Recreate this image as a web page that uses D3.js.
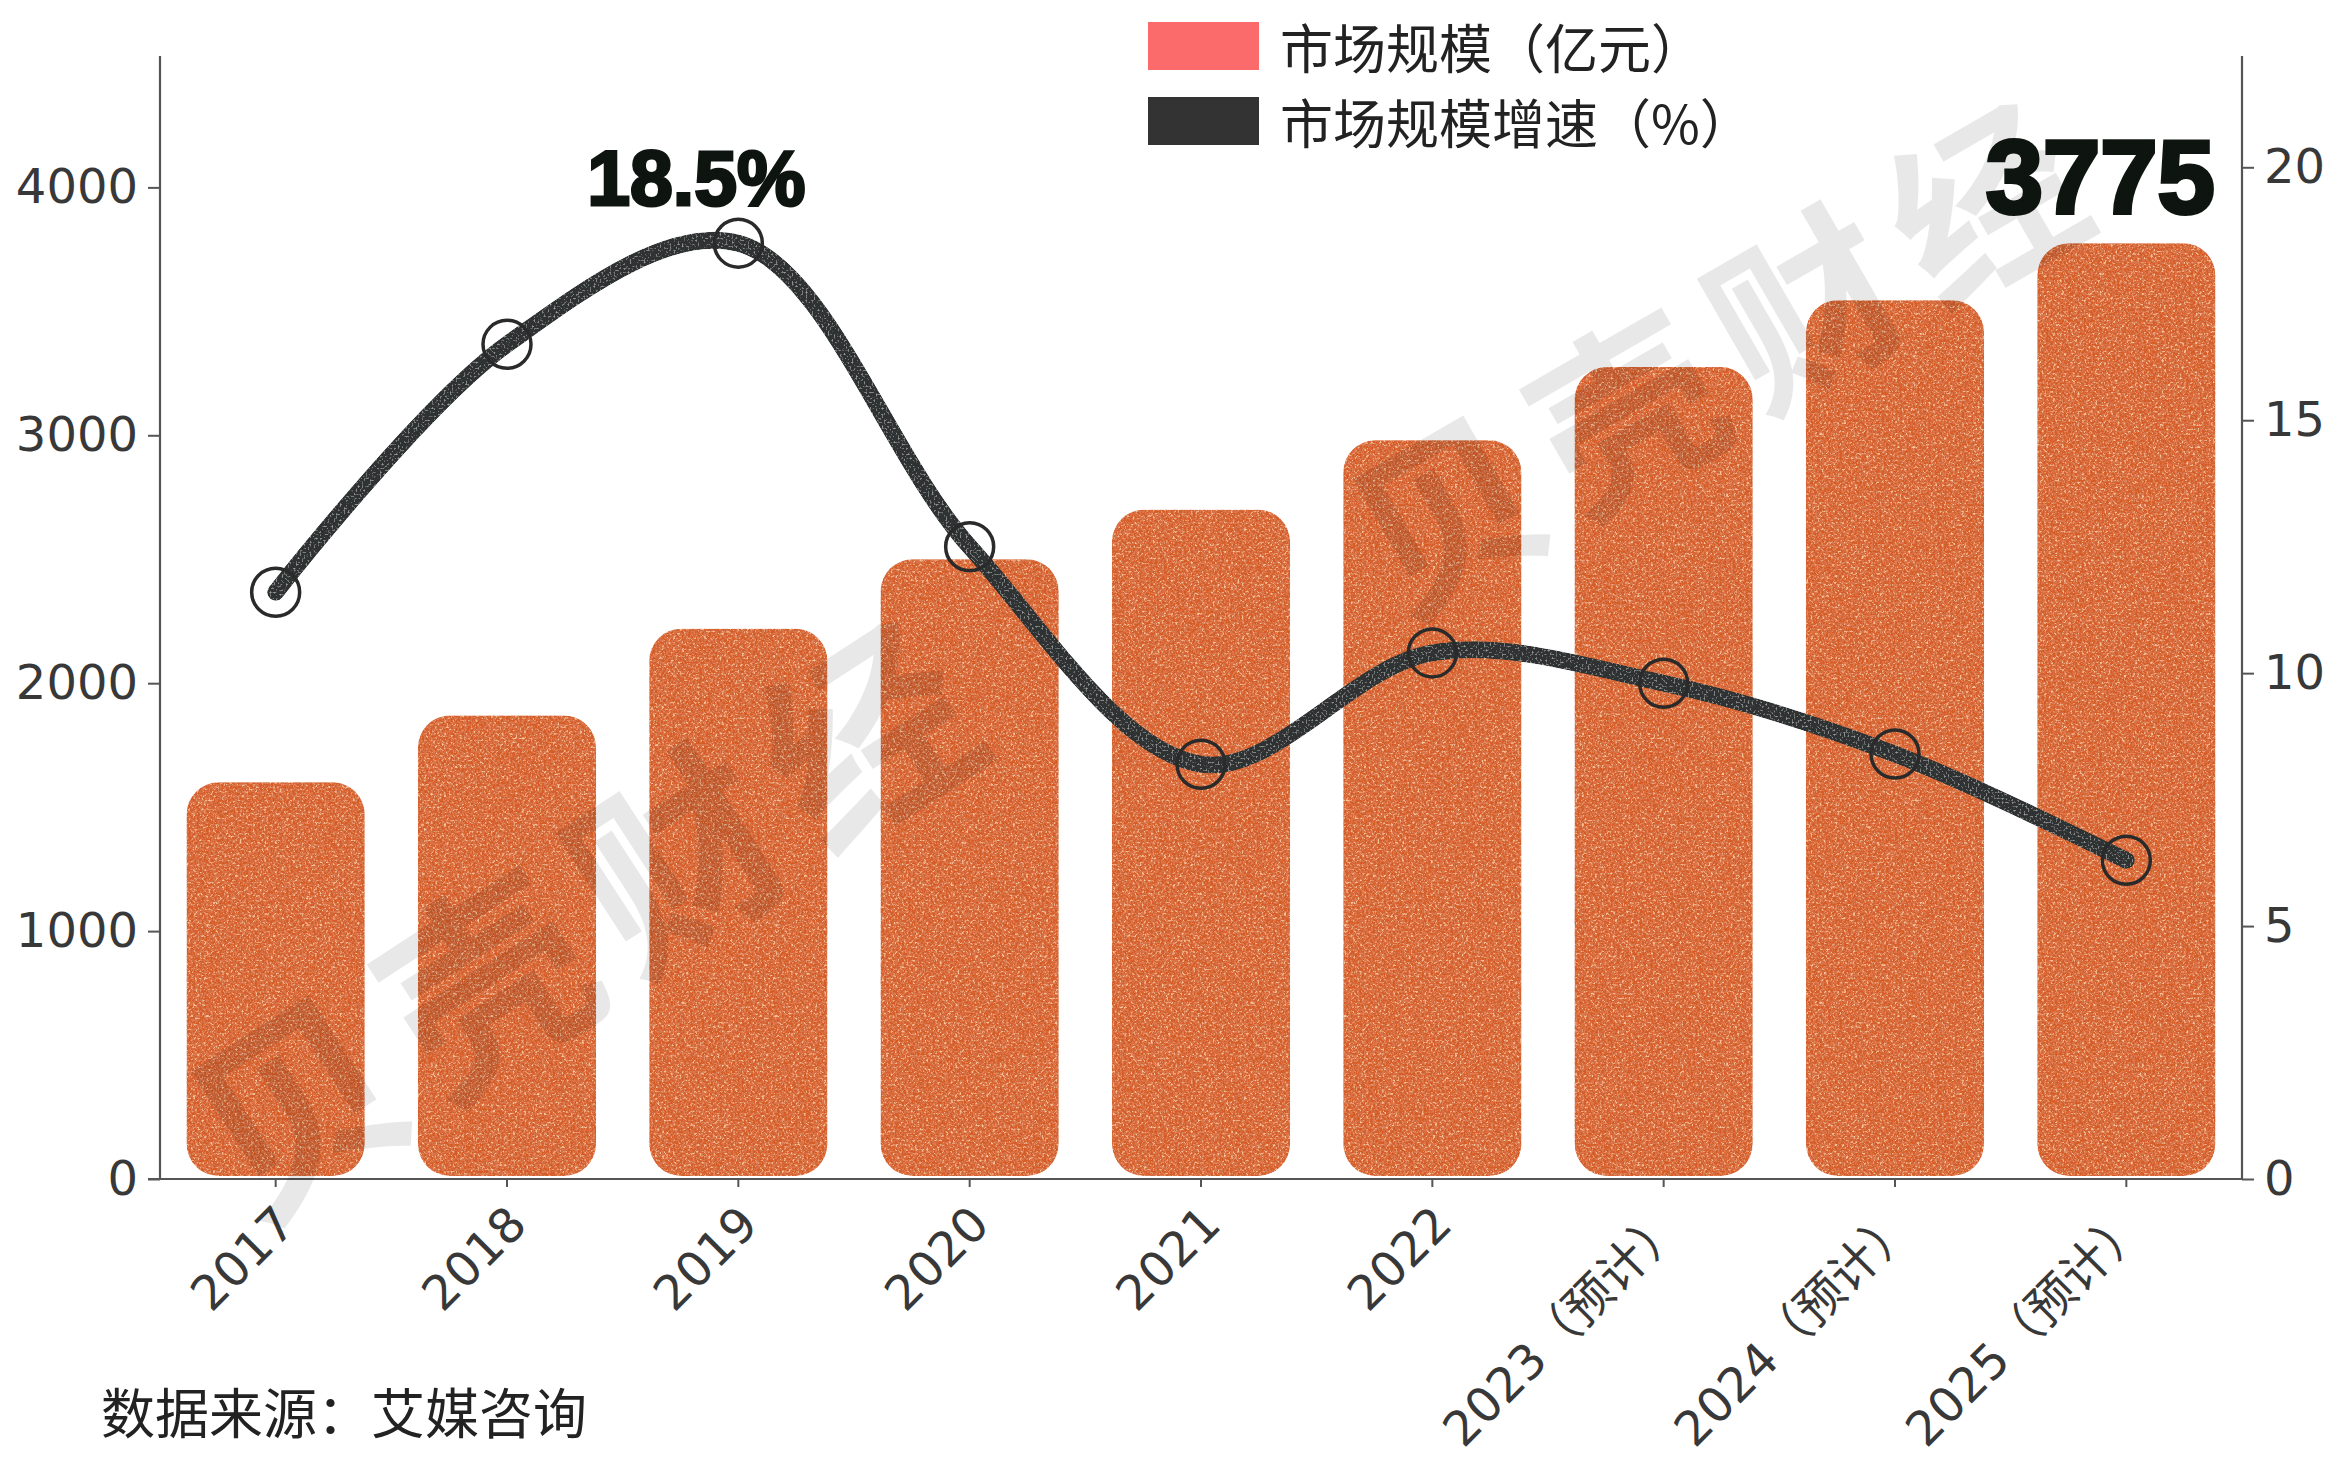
<!DOCTYPE html>
<html>
<head>
<meta charset="utf-8">
<script src="https://cdn.jsdelivr.net/npm/d3@7/dist/d3.min.js"></script>
<style>
  html, body { margin: 0; padding: 0; background: #ffffff; }
  svg { display: block; }
</style>
</head>
<body>
<svg id="chart" width="2328" height="1471"></svg>
<script>
// ---- Data ----
const categories = ["2017","2018","2019","2020","2021","2022","2023（预计）","2024（预计）","2025（预计）"];
const marketSize = [1600, 1870, 2220, 2500, 2700, 2980, 3275, 3545, 3775];   // 亿元
const growthRate = [11.6, 16.5, 18.5, 12.5, 8.2, 10.4, 9.8, 8.4, 6.3];       // %
const leftTicks = [0, 1000, 2000, 3000, 4000];
const rightTicks = [0, 5, 10, 15, 20];
const legendLabels = ["市场规模（亿元）", "市场规模增速（%）"];
const sourceText = "数据来源：艾媒咨询";
const watermarkText = "贝壳财经";

// ---- Layout ----
const W = 2328, H = 1471;
const x0 = 160, x1 = 2242, yBottom = 1179, yTop = 56;

const svg = d3.select("#chart");

const x = d3.scaleBand().domain(categories).range([x0, x1]).paddingInner(0.23).paddingOuter(0.115);
const yL = d3.scaleLinear().domain([0, 4530]).range([yBottom, yTop]);
const yR = d3.scaleLinear().domain([0, 22.2]).range([yBottom, yTop]);

// ---- Filters (grain textures) ----
const defs = svg.append("defs");
const fBar = defs.append("filter").attr("id", "grainBar")
  .attr("x", 0).attr("y", 0).attr("width", 1).attr("height", 1);
fBar.append("feTurbulence").attr("type", "fractalNoise").attr("baseFrequency", 0.45)
  .attr("numOctaves", 2).attr("seed", 7).attr("result", "n");
fBar.append("feColorMatrix").attr("in", "n").attr("type", "matrix")
  .attr("values", "0 0 0 0 0.94  0 0 0 0 0.56  0 0 0 0 0.32  4.5 0 0 0 -2.35").attr("result", "light");
fBar.append("feColorMatrix").attr("in", "n").attr("type", "matrix")
  .attr("values", "0 0 0 0 0.70  0 0 0 0 0.18  0 0 0 0 0.07  0 4.5 0 0 -2.0").attr("result", "dark");
const mB = fBar.append("feMerge").attr("result", "m");
mB.append("feMergeNode").attr("in", "SourceGraphic");
mB.append("feMergeNode").attr("in", "light");
mB.append("feMergeNode").attr("in", "dark");
fBar.append("feComposite").attr("in", "m").attr("in2", "SourceAlpha").attr("operator", "in");

const fLine = defs.append("filter").attr("id", "grainLine")
  .attr("filterUnits", "userSpaceOnUse").attr("x", 0).attr("y", 0).attr("width", W).attr("height", H);
fLine.append("feTurbulence").attr("type", "fractalNoise").attr("baseFrequency", 0.5)
  .attr("numOctaves", 2).attr("seed", 3).attr("result", "n");
fLine.append("feColorMatrix").attr("in", "n").attr("type", "matrix")
  .attr("values", "0 0 0 0 0.33  0 0 0 0 0.34  0 0 0 0 0.34  4 0 0 0 -2.2").attr("result", "light");
const mL = fLine.append("feMerge").attr("result", "m");
mL.append("feMergeNode").attr("in", "SourceGraphic");
mL.append("feMergeNode").attr("in", "light");
fLine.append("feComposite").attr("in", "m").attr("in2", "SourceAlpha").attr("operator", "in");

// ---- Axes ----
const tickFont = "'DejaVu Sans', 'Noto Sans CJK SC', sans-serif";
const axisColor = "#555";

const gL = svg.append("g").attr("transform", `translate(${x0},0)`)
  .call(d3.axisLeft(yL).tickValues(leftTicks).tickSize(12).tickPadding(10).tickFormat(d3.format("d")));
gL.select(".domain").attr("d", `M0,${yTop}V${yBottom}`);

const gR = svg.append("g").attr("transform", `translate(${x1},0)`)
  .call(d3.axisRight(yR).tickValues(rightTicks).tickSize(12).tickPadding(10).tickFormat(d3.format("d")));
gR.select(".domain").attr("d", `M0,${yTop}V${yBottom}`);

const gX = svg.append("g").attr("transform", `translate(0,${yBottom})`)
  .call(d3.axisBottom(x).tickSize(8).tickSizeOuter(0));
gX.select(".domain").attr("d", `M${x0 - 12},0H${x1}`);
gX.selectAll(".tick text")
  .attr("text-anchor", "end")
  .attr("dy", null)
  .attr("y", 0)
  .attr("transform", "translate(22,48) rotate(-45)");

[gL, gR, gX].forEach(g => {
  g.selectAll(".domain").attr("stroke", axisColor).attr("stroke-width", 2.2);
  g.selectAll(".tick line").attr("stroke", axisColor).attr("stroke-width", 2);
  g.selectAll(".tick text").attr("font-family", tickFont).attr("font-size", 48).attr("fill", "#383838");
});

// ---- Bars ----
svg.append("g").selectAll("rect").data(categories).join("rect")
  .attr("x", d => x(d))
  .attr("y", (d, i) => yL(marketSize[i]))
  .attr("width", x.bandwidth())
  .attr("height", (d, i) => yL(0) - yL(marketSize[i]) - 3)
  .attr("rx", 32).attr("ry", 32)
  .attr("fill", "#d65c27")
  .attr("filter", "url(#grainBar)");

// ---- Watermarks ----
const wm = svg.append("g").attr("pointer-events", "none");
[[585, 905, -33, 205], [1720, 345, -30, 185]].forEach(p => {
  wm.append("text")
    .attr("transform", `translate(${p[0]},${p[1]}) rotate(${p[2]})`)
    .attr("text-anchor", "middle").attr("dominant-baseline", "central")
    .attr("font-family", "'Noto Sans CJK SC', sans-serif").attr("font-weight", 700)
    .attr("font-size", p[3]).attr("letter-spacing", 22)
    .attr("fill", "#000").attr("fill-opacity", 0.09)
    .text(watermarkText);
});

// ---- Line ----
const cx = d => x(d) + x.bandwidth() / 2;
const line = d3.line()
  .x((d, i) => cx(categories[i]))
  .y(d => yR(d))
  .curve(d3.curveCatmullRom.alpha(0.5));

svg.append("path").datum(growthRate)
  .attr("d", line)
  .attr("fill", "none")
  .attr("stroke", "#2e3131")
  .attr("stroke-width", 17)
  .attr("stroke-linecap", "round")
  .attr("stroke-linejoin", "round")
  .attr("filter", "url(#grainLine)");

svg.append("g").selectAll("circle").data(growthRate).join("circle")
  .attr("cx", (d, i) => cx(categories[i]))
  .attr("cy", d => yR(d))
  .attr("r", 24)
  .attr("fill", "none")
  .attr("stroke", "#2a2a2a")
  .attr("stroke-width", 3.5);

// ---- Annotations ----
const iMax = growthRate.indexOf(d3.max(growthRate));
svg.append("text")
  .attr("x", cx(categories[iMax]) - 42)
  .attr("y", yR(growthRate[iMax]) - 38)
  .attr("text-anchor", "middle")
  .attr("font-family", "'Liberation Sans', Arial, sans-serif").attr("font-weight", 700)
  .attr("font-size", 77).attr("fill", "#0e140f")
  .attr("stroke", "#0e140f").attr("stroke-width", 3)
  .text(growthRate[iMax] + "%");

const iLast = marketSize.length - 1;
svg.append("text")
  .attr("x", cx(categories[iLast]) - 26)
  .attr("y", yL(marketSize[iLast]) - 30)
  .attr("text-anchor", "middle")
  .attr("font-family", "'Liberation Sans', Arial, sans-serif").attr("font-weight", 700)
  .attr("font-size", 103).attr("fill", "#0e140f")
  .attr("stroke", "#0e140f").attr("stroke-width", 4)
  .text(marketSize[iLast]);

// ---- Legend ----
const legendColors = ["#fc6b6b", "#333333"];
const lg = svg.append("g");
legendLabels.forEach((t, i) => {
  const cyL = 46 + i * 75;
  lg.append("rect").attr("x", 1148).attr("y", cyL - 24).attr("width", 111).attr("height", 48)
    .attr("fill", legendColors[i]);
  lg.append("text").attr("x", 1280).attr("y", cyL)
    .attr("dominant-baseline", "central")
    .attr("font-family", "'Noto Sans CJK SC', sans-serif").attr("font-size", 53)
    .attr("fill", "#222").text(t);
});

// ---- Source ----
svg.append("text").attr("x", 101).attr("y", 1410)
  .attr("dominant-baseline", "central")
  .attr("font-family", "'Noto Sans CJK SC', sans-serif").attr("font-size", 54)
  .attr("fill", "#222").text(sourceText);
</script>
</body>
</html>
